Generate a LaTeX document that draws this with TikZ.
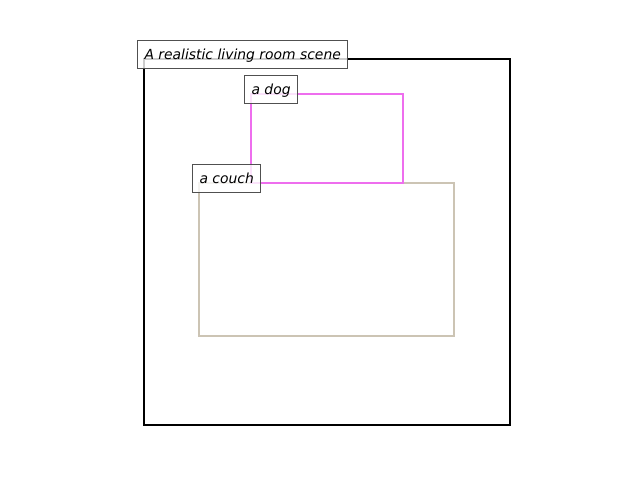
\documentclass[tikz,border=0pt]{standalone}
\usepackage{fontspec}
\setmainfont{DejaVu Sans}
\usepackage{tikz}
\usetikzlibrary{positioning}
\definecolor{dogpink}{RGB}{238,110,238}
\definecolor{couchtan}{RGB}{204,196,180}
\definecolor{tagedge}{RGB}{80,80,80}

\begin{document}
\begin{tikzpicture}[x=1pt, y=-1pt,
        bbox/.style={line width=2.7pt},
        tag/.style={draw=tagedge, line width=1pt, fill=white, fill opacity=0.8, text opacity=1,
            anchor=base west, inner xsep=7pt, inner ysep=5pt, text height=14pt, text depth=4pt,
            font=\fontsize{13.9}{16}\selectfont\itshape}]
        \useasboundingbox (0,0) rectangle (640,480);
        % boxes
        \draw[bbox, black] (144,59) coordinate (scene) rectangle (510,425);
        \draw[bbox, couchtan] (199,183) coordinate (couch) rectangle (454,336);
        \draw[bbox, dogpink] (251,94) coordinate (dog) rectangle (403,183);
        % labels
        \node[tag, xshift=-7pt] (scenetag) at (scene) {A realistic living room scene};
        \node[tag, xshift=-7pt] (dogtag) at (dog) {a dog};
        \node[tag, xshift=-7pt] (couchtag) at (couch) {a couch};
        \end{tikzpicture}
\end{document}
